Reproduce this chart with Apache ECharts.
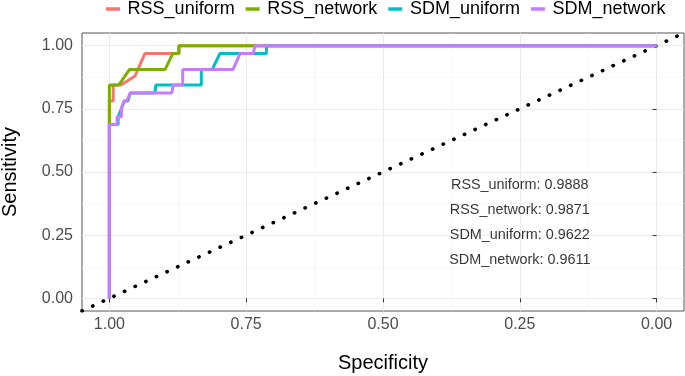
<!DOCTYPE html>
<html>
<head>
<meta charset="utf-8">
<script src="https://cdn.jsdelivr.net/npm/echarts@6/dist/echarts.min.js"></script>
<style>html,body{margin:0;padding:0;background:#fff}#c{width:685px;height:376px}</style>
</head>
<body>
<div id="c"></div>
<script>
// ---- data (specificity, sensitivity) ----
const seriesNames = ['RSS_uniform', 'RSS_network', 'SDM_uniform', 'SDM_network'];
const seriesColors = ['#F8766D', '#7CAE00', '#00BFC4', '#C77CFF'];
const rssUniform = [[1,0],[1,0.781],[0.993,0.781],[0.993,0.844],[0.979,0.844],[0.953,0.880],[0.935,0.969],[0.884,0.969],[0.873,0.969],[0.873,1],[0,1]];
const rssNetwork = [[1,0],[1,0.844],[0.983,0.844],[0.963,0.906],[0.898,0.906],[0.884,0.969],[0.873,0.969],[0.873,1],[0,1]];
const sdmUniform = [[1,0],[1,0.6875],[0.984,0.6875],[0.984,0.719],[0.978,0.75],[0.973,0.781],[0.966,0.781],[0.962,0.8125],[0.917,0.8125],[0.915,0.844],[0.832,0.844],[0.832,0.906],[0.812,0.906],[0.798,0.969],[0.713,0.969],[0.713,1],[0,1]];
const sdmNetwork = [[1,0],[1,0.6875],[0.986,0.6875],[0.986,0.719],[0.978,0.719],[0.978,0.75],[0.973,0.781],[0.968,0.781],[0.962,0.8125],[0.886,0.8125],[0.883,0.844],[0.866,0.844],[0.866,0.906],[0.774,0.906],[0.761,0.969],[0.737,0.969],[0.734,1],[0,1]];
const curves = [rssUniform, rssNetwork, sdmUniform, sdmNetwork];
const aucLabels = ['RSS_uniform: 0.9888', 'RSS_network: 0.9871', 'SDM_uniform: 0.9622', 'SDM_network: 0.9611'];
const aucPositions = [[0.25,0.45],[0.25,0.35],[0.25,0.25],[0.25,0.15]];
const diagonal = [[1.05,-0.05],[-0.05,1.05]];
const majorTicks = [0, 0.25, 0.5, 0.75, 1];
const minorTicks = [0.125, 0.375, 0.625, 0.875];

const FONT = 'Liberation Sans, Arial, Helvetica, sans-serif';
const chart = echarts.init(document.getElementById('c'), null, {renderer: 'canvas'});

function mkAxis(isX, major) {
  const base = {
    type: 'value', min: -0.05, max: 1.05,
    inverse: isX,
    axisLine: {show: false},
    splitArea: {show: false}
  };
  if (major) {
    Object.assign(base, {
      axisTick: {show: true, customValues: majorTicks, length: 4, lineStyle: {color: '#333', width: 1}},
      axisLabel: {show: true, customValues: majorTicks, formatter: v => v.toFixed(2),
        color: '#4D4D4D', fontSize: 16, fontFamily: FONT, margin: isX ? 6 : 9},
      splitLine: {show: true, lineStyle: {color: '#EBEBEB', width: 1}},
      name: isX ? 'Specificity' : 'Sensitivity',
      nameLocation: 'middle',
      nameGap: isX ? 42 : 62,
      nameTextStyle: {color: '#000', fontSize: 20, fontFamily: FONT}
    });
  } else {
    Object.assign(base, {
      axisTick: {show: false, customValues: minorTicks},
      axisLabel: {show: false, customValues: minorTicks},
      splitLine: {show: true, lineStyle: {color: '#F3F3F3', width: 0.6}}
    });
  }
  return base;
}

const series = [];
series.push({type: 'line', xAxisIndex: 1, yAxisIndex: 1, data: [], silent: true});
series.push({
  type: 'line', name: 'diag', data: diagonal, showSymbol: false, silent: true,
  lineStyle: {color: '#000', width: 3.6, type: [0.3, 11.4], cap: 'round'}, z: 1
});
curves.forEach((c, i) => {
  series.push({
    type: 'line', name: seriesNames[i], data: c, showSymbol: false, symbol: 'none',
    lineStyle: {color: seriesColors[i], width: 3}, itemStyle: {color: seriesColors[i]},
    z: 2 + i
  });
});
series.push({
  type: 'scatter', name: 'auc', symbolSize: 0, silent: true,
  data: aucPositions.map((p, i) => [p[0], p[1], aucLabels[i]]),
  label: {show: true, position: 'inside', formatter: p => p.data[2], color: '#000', fontSize: 14.4, fontFamily: FONT},
  z: 10
});

chart.setOption({
  animation: false,
  backgroundColor: '#fff',
  grid: {left: 82, right: 1, top: 33, bottom: 65, outerBoundsMode: 'none', containLabel: false,
    show: true, borderColor: '#555', borderWidth: 1, backgroundColor: 'transparent'},
  legend: {
    data: seriesNames.map((n, i) => ({name: n, icon: 'rect', itemStyle: {color: seriesColors[i]}})),
    left: 106, top: 0, width: 575, padding: 0, itemWidth: 14, itemHeight: 3.5, itemGap: 11,
    textStyle: {color: '#000', fontSize: 18, fontFamily: FONT, padding: [0, 0, 0, 2.6]}
  },
  xAxis: [mkAxis(true, true), mkAxis(true, false)],
  yAxis: [mkAxis(false, true), mkAxis(false, false)],
  series: series
});
</script>
</body>
</html>
